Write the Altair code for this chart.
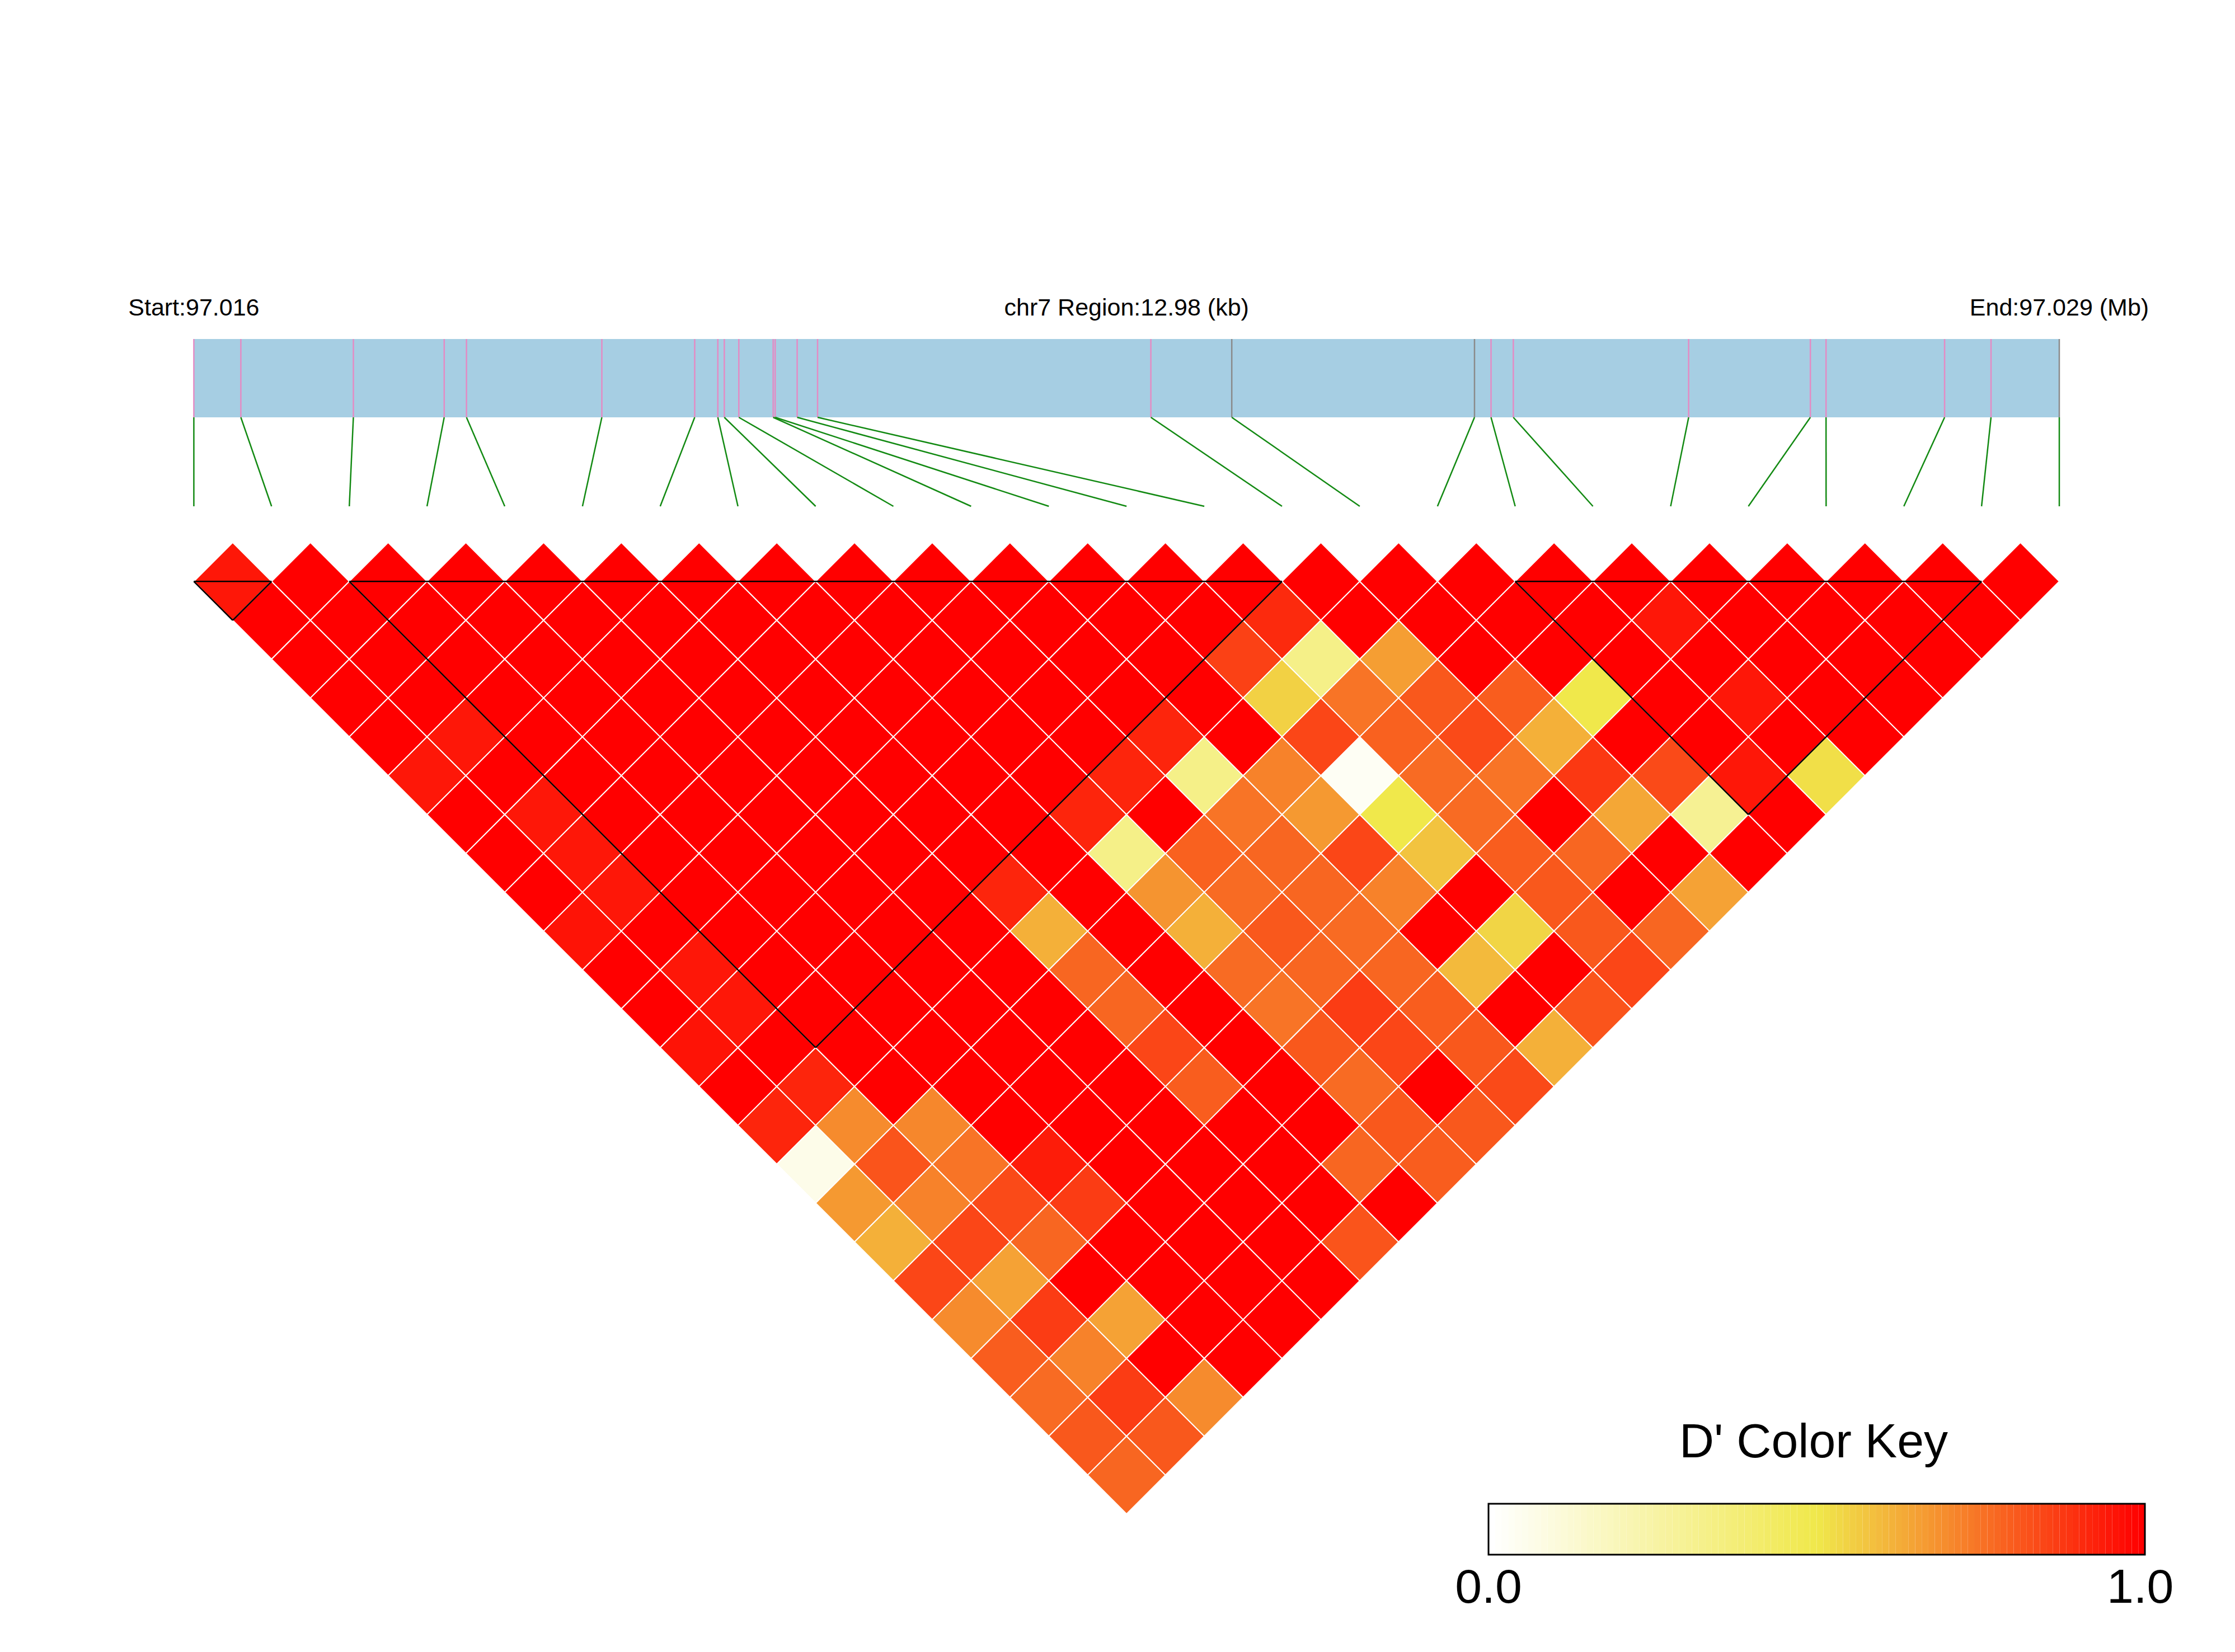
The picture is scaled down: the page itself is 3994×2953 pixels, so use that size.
import altair as alt
import pandas as pd

# ---------------- data ----------------
chrom = "chr7"
region_start_bp = 97016150
region_end_bp = 97029130
# SNP offsets (bp) from region start
snp_offset_bp = [0, 327, 1110, 1742, 1897, 2839, 3485, 3646, 3691, 3792, 4031, 4045,
                 4198, 4340, 6659, 7222, 8911, 9026, 9181, 10401, 11248, 11357, 12182,
                 12505, 12980]
snp_mark = ["pink"] * 15 + ["grey", "grey"] + ["pink"] * 7 + ["grey"]

# D' upper triangle: row i holds D'(i, j) for j = i+1 .. 24
dprime_rows = [
    [0.95, 1, 1, 1, 1, 0.95, 1, 1, 1, 0.96, 1, 1, 0.96, 1, 0.92, 0.06, 0.67, 0.62, 0.85, 0.70, 0.80, 0.77, 0.81, 0.78],
    [1, 1, 1, 1, 0.95, 1, 0.95, 0.95, 0.95, 1, 0.95, 0.95, 1, 0.92, 0.70, 0.82, 0.72, 0.85, 0.65, 0.87, 0.72, 0.87, 0.81],
    [1, 1, 1, 1, 1, 1, 1, 1, 1, 1, 1, 1, 1, 1, 0.71, 0.75, 0.84, 0.78, 1, 0.65, 1, 0.70],
    [1, 1, 1, 1, 1, 1, 1, 1, 1, 1, 1, 1, 1, 1, 1, 0.94, 0.87, 1, 1, 1, 1],
    [1, 1, 1, 1, 1, 1, 1, 1, 1, 1, 1, 1, 1, 1, 1, 1, 1, 1, 1, 1],
    [1, 1, 1, 1, 1, 1, 1, 1, 1, 1, 1, 1, 1, 1, 1, 1, 1, 1, 1],
    [1, 1, 1, 1, 1, 1, 1, 1, 0.92, 0.62, 0.78, 0.78, 0.85, 0.80, 1, 1, 1, 0.82],
    [1, 1, 1, 1, 1, 1, 1, 1, 1, 1, 1, 1, 1, 1, 1, 0.78, 1],
    [1, 1, 1, 1, 1, 1, 0.92, 0.33, 0.68, 0.62, 0.77, 0.75, 0.81, 0.77, 0.81, 0.80],
    [1, 1, 1, 1, 1, 0.92, 1, 0.79, 0.77, 0.81, 0.78, 0.87, 0.85, 1, 0.81],
    [1, 1, 1, 1, 0.92, 0.33, 0.75, 0.78, 0.78, 0.77, 0.78, 0.80, 0.81, 0.84],
    [1, 1, 1, 1, 1, 0.72, 0.67, 0.85, 0.72, 1, 0.60, 1, 0.62],
    [1, 1, 0.86, 0.55, 0.85, 0.03, 0.50, 0.58, 1, 0.54, 1, 0.82],
    [1, 0.91, 0.33, 0.75, 0.79, 0.77, 0.77, 0.80, 0.81, 0.81, 0.85],
    [1, 1, 0.66, 0.81, 0.84, 0.75, 1, 0.78, 1, 0.78],
    [1, 1, 1, 0.80, 0.62, 0.88, 0.64, 1, 0.65],
    [1, 1, 1, 0.50, 1, 0.84, 0.30, 1],
    [1, 1, 1, 1, 1, 0.95, 1],
    [1, 0.95, 1, 0.95, 1, 0.52],
    [1, 1, 1, 1, 1],
    [1, 1, 1, 1],
    [1, 1, 1],
    [1, 1],
    [1],
]

block_first = [0, 2, 17]
block_last = [1, 14, 23]

key_title = "D' Color Key"
key_labels = ["0.0", "1.0"]
key_bins = 100

# ---------------- layout (page pixels) ----------------
PAGE_W, PAGE_H, MARGIN = 3994, 2953, 8
W, H = PAGE_W - 2 * MARGIN, PAGE_H - 2 * MARGIN
X0, Y0, UNIT = 346.4, 1039.3, 138.9   # SNP 0 x, top baseline y, spacing


def u_of(px):
    return (px - X0) / UNIT


def v_of(py):
    return (py - Y0) / UNIT


n = len(snp_offset_bp)
span = region_end_bp - region_start_bp

xs = alt.Scale(domain=[u_of(MARGIN), u_of(MARGIN + W)], nice=False, zero=False)
ys = alt.Scale(domain=[v_of(MARGIN), v_of(MARGIN + H)], nice=False, zero=False, reverse=True)
cs = alt.Scale(domain=[0, 0.5, 1], range=["#FFFFFF", "#F0E84B", "#FF0000"], interpolate="rgb")

BAR_TOP, BAR_BOT, GRID_Y, TXT_Y = v_of(606), v_of(746), v_of(905), v_of(564)

# gene bar
bar_df = pd.DataFrame({"x0": [0.0], "x1": [(n - 1) * 1.0], "y0": [BAR_TOP], "y1": [BAR_BOT]})
bar = alt.Chart(bar_df).mark_rect(fill="#A6CEE3").encode(
    x=alt.X("x0:Q", scale=xs, axis=None), x2="x1:Q",
    y=alt.Y("y0:Q", scale=ys, axis=None), y2="y1:Q")

snp_df = pd.DataFrame({
    "idx": list(range(n)),
    "pos_u": [o / span * (n - 1) for o in snp_offset_bp],
    "mark": snp_mark,
})
snp_df["yt"] = BAR_TOP
snp_df["yb"] = BAR_BOT
snp_df["yg"] = GRID_Y

ticks = alt.Chart(snp_df).mark_rule(strokeWidth=2.5).encode(
    x=alt.X("pos_u:Q", scale=xs, axis=None),
    y=alt.Y("yt:Q", scale=ys, axis=None), y2="yb:Q",
    stroke=alt.Stroke("mark:N", scale=alt.Scale(domain=["pink", "grey"], range=["#E48BC4", "#8A8A8A"]), legend=None))

links = alt.Chart(snp_df).mark_rule(strokeWidth=2.5, color="#138A13").encode(
    x=alt.X("pos_u:Q", scale=xs, axis=None), x2="idx:Q",
    y=alt.Y("yb:Q", scale=ys, axis=None), y2="yg:Q")

# LD cells
rows = []
for i, vals in enumerate(dprime_rows):
    for k, val in enumerate(vals):
        j = i + 1 + k
        rows.append({"i": i, "j": j, "D": val, "u": (i + j) / 2, "v": (j - i - 1) / 2})
cells_df = pd.DataFrame(rows)
cells = alt.Chart(cells_df).mark_point(shape="diamond", filled=True, size=UNIT * UNIT,
                                        stroke="white", strokeWidth=2, opacity=1, fillOpacity=1).encode(
    x=alt.X("u:Q", scale=xs, axis=None),
    y=alt.Y("v:Q", scale=ys, axis=None),
    fill=alt.Fill("D:Q", scale=cs, legend=None))

# block outlines
seg = []
for a, b in zip(block_first, block_last):
    mid, depth = (a + b) / 2, (b - a) / 2
    seg.append({"x0": a, "y0": 0.0, "x1": b, "y1": 0.0})
    seg.append({"x0": a, "y0": 0.0, "x1": mid, "y1": depth})
    seg.append({"x0": b, "y0": 0.0, "x1": mid, "y1": depth})
blocks = alt.Chart(pd.DataFrame(seg)).mark_rule(color="black", strokeWidth=2.5).encode(
    x=alt.X("x0:Q", scale=xs, axis=None), x2="x1:Q",
    y=alt.Y("y0:Q", scale=ys, axis=None), y2="y1:Q")

# header texts
hdr_df = pd.DataFrame({
    "x": [0.0, (n - 1) / 2, float(n - 1)],
    "y": [TXT_Y] * 3,
    "t": [f"Start:{region_start_bp / 1e6:.3f}",
          f"{chrom} Region:{span / 1000:.2f} (kb)",
          f"End:{region_end_bp / 1e6:.3f} (Mb)"],
})
hdr = alt.Chart(hdr_df).mark_text(font="Liberation Sans", fontSize=43, align="center",
                                  baseline="alphabetic", color="black").encode(
    x=alt.X("x:Q", scale=xs, axis=None), y=alt.Y("y:Q", scale=ys, axis=None), text="t:N")

# colour key
KX0, KX1, KY0, KY1 = u_of(2660), u_of(3833), v_of(2688), v_of(2779)
bw = (KX1 - KX0) / key_bins
key_df = pd.DataFrame({
    "x0": [KX0 + k * bw for k in range(key_bins)],
    "x1": [KX0 + (k + 1) * bw for k in range(key_bins)],
    "D": [k / (key_bins - 1) for k in range(key_bins)],
})
key_df["y0"] = KY0
key_df["y1"] = KY1
key = alt.Chart(key_df).mark_rect().encode(
    x=alt.X("x0:Q", scale=xs, axis=None), x2="x1:Q",
    y=alt.Y("y0:Q", scale=ys, axis=None), y2="y1:Q",
    fill=alt.Fill("D:Q", scale=cs, legend=None))
frame = alt.Chart(pd.DataFrame({"x0": [KX0], "x1": [KX1], "y0": [KY0], "y1": [KY1]})).mark_rect(
    fillOpacity=0, stroke="black", strokeWidth=3).encode(
    x=alt.X("x0:Q", scale=xs, axis=None), x2="x1:Q",
    y=alt.Y("y0:Q", scale=ys, axis=None), y2="y1:Q")
ktitle = alt.Chart(pd.DataFrame({"x": [(KX0 + KX1) / 2 - 0.04], "y": [v_of(2605)], "t": [key_title]})).mark_text(
    font="Liberation Sans", fontSize=86, align="center", baseline="alphabetic", color="black").encode(
    x=alt.X("x:Q", scale=xs, axis=None), y=alt.Y("y:Q", scale=ys, axis=None), text="t:N")
klab = alt.Chart(pd.DataFrame({"x": [KX0, KX1 - 0.06], "y": [v_of(2865)] * 2, "t": key_labels})).mark_text(
    font="Liberation Sans", fontSize=86, align="center", baseline="alphabetic", color="black").encode(
    x=alt.X("x:Q", scale=xs, axis=None), y=alt.Y("y:Q", scale=ys, axis=None), text="t:N")

chart = alt.layer(bar, ticks, links, cells, blocks, hdr, key, frame, ktitle, klab).properties(
    width=W, height=H, padding=0, autosize=alt.AutoSizeParams(type="none"),
    background="white",
).configure_view(strokeWidth=0)

chart.save("out.html", embed_options={"renderer": "svg", "actions": False})
